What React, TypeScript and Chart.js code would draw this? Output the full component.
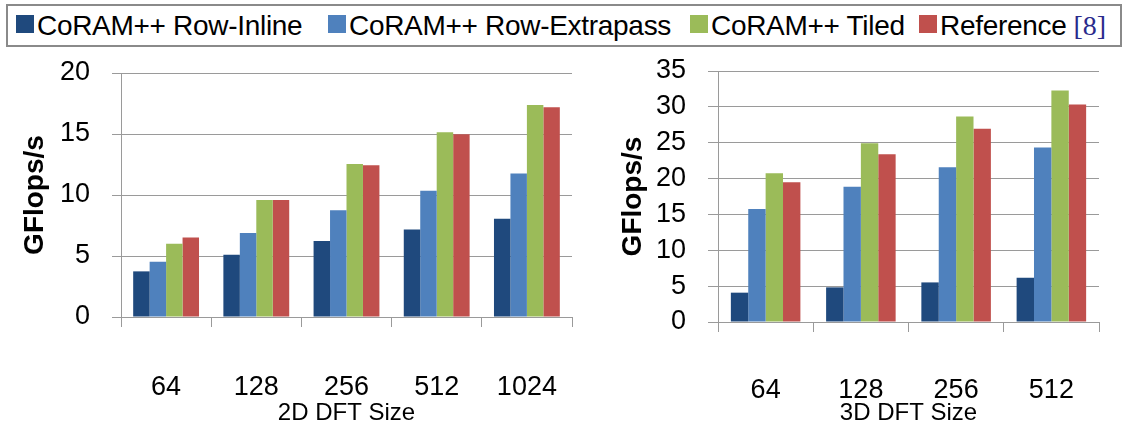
import React, { useEffect, useRef } from "react";
import { Chart, registerables } from "chart.js";

Chart.register(...registerables);

const seriesNames = ["CoRAM++ Row-Inline", "CoRAM++ Row-Extrapass", "CoRAM++ Tiled", "Reference"];
const seriesColors = ["#1F497D", "#4F81BD", "#9BBB59", "#C0504D"];

const sizes2D = ["64", "128", "256", "512", "1024"];
const rowInline2D = [3.74, 5.1, 6.22, 7.18, 8.05];
const rowExtrapass2D = [4.53, 6.88, 8.76, 10.34, 11.76];
const tiled2D = [6.0, 9.6, 12.55, 15.14, 17.38];
const reference2D = [6.52, 9.6, 12.44, 14.98, 17.19];

const sizes3D = ["64", "128", "256", "512"];
const rowInline3D = [4.09, 4.83, 5.52, 6.17];
const rowExtrapass3D = [15.74, 18.85, 21.59, 24.33];
const tiled3D = [20.75, 24.93, 28.64, 32.27];
const reference3D = [19.5, 23.4, 26.93, 30.32];

const yMax2D = 20;
const yMax3D = 35;
const yStep = 5;

const FONT = '"Liberation Sans", Arial, sans-serif';
const GRID = "#9a9a9a";

type PanelProps = {
  labels: string[];
  series: number[][];
  yMax: number;
  xTitle: string;
  padding: { left: number; right: number; top: number; bottom: number };
  yWidth: number;
  xHeight: number;
  xTickPad: number;
  xTitlePad: number;
  yTickLen: number;
  style: React.CSSProperties;
  width: number;
  height: number;
};

function BarPanel(p: PanelProps) {
  const ref = useRef<HTMLCanvasElement | null>(null);
  useEffect(() => {
    if (!ref.current) return;
    const chart = new Chart(ref.current, {
      type: "bar",
      data: {
        labels: p.labels,
        datasets: p.series.map((d, i) => ({
          label: seriesNames[i],
          data: d,
          backgroundColor: seriesColors[i],
          borderWidth: 0,
          categoryPercentage: 0.73,
          barPercentage: 1,
        })),
      },
      options: {
        responsive: false,
        animation: false,
        layout: { padding: p.padding },
        plugins: { legend: { display: false }, tooltip: { enabled: false } },
        scales: {
          x: {
            grid: { offset: true, drawOnChartArea: false, drawTicks: true, tickLength: 10, color: GRID },
            border: { display: true, color: GRID, width: 1 },
            ticks: { color: "#000", font: { family: FONT, size: 27 }, padding: p.xTickPad, maxRotation: 0, autoSkip: false },
            title: {
              display: true,
              text: p.xTitle,
              color: "#000",
              font: { family: FONT, size: 24 },
              padding: { top: 0, bottom: p.xTitlePad },
            },
            afterFit: (s: any) => {
              s.height = p.xHeight;
              s.paddingLeft = 0;
              s.paddingRight = 0;
            },
          },
          y: {
            min: 0,
            max: p.yMax,
            grid: { color: GRID, tickLength: p.yTickLen, drawTicks: true },
            border: { display: true, color: GRID, width: 1 },
            ticks: { stepSize: yStep, color: "#000", font: { family: FONT, size: 27 }, padding: 22, autoSkip: false },
            title: {
              display: true,
              text: "GFlops/s",
              color: "#000",
              font: { family: FONT, size: 28, weight: "bold" },
              padding: { top: 0, bottom: 0 },
            },
            afterFit: (s: any) => {
              s.width = p.yWidth;
              s.paddingTop = 0;
              s.paddingBottom = 0;
            },
          },
        },
      },
    } as any);
    return () => chart.destroy();
  }, []);
  return <canvas ref={ref} width={p.width} height={p.height} style={{ position: "absolute", ...p.style, width: p.width, height: p.height }} />;
}

function Legend() {
  const items = [
    { sq: 16, name: seriesNames[0] },
    { sq: 328, name: seriesNames[1] },
    { sq: 690, name: seriesNames[2] },
    { sq: 919, name: seriesNames[3] },
  ];
  return (
    <div
      style={{
        position: "absolute",
        left: 6,
        top: 4,
        width: 1112,
        height: 39,
        border: "2px solid #8a8a8a",
        boxSizing: "content-box",
      }}
    >
      {items.map((it, i) => (
        <div key={i}>
          <div
            style={{
              position: "absolute",
              left: it.sq - 8,
              top: 9,
              width: 18,
              height: 18,
              background: seriesColors[i],
            }}
          />
          <div
            style={{
              position: "absolute",
              left: it.sq - 8 + 21,
              top: 0,
              height: 39,
              lineHeight: "39px",
              fontFamily: FONT,
              fontSize: 28,
              letterSpacing: "-0.3px",
              color: "#000",
              whiteSpace: "nowrap",
            }}
          >
            {it.name}
            {i === 3 ? (
              <span style={{ fontFamily: '"Liberation Serif", "Times New Roman", serif', color: "#2a2a8c", letterSpacing: 0 }}> [8]</span>
            ) : null}
          </div>
        </div>
      ))}
    </div>
  );
}

export default function App() {
  return (
    <div style={{ position: "absolute", left: 0, top: 0, width: 1128, height: 430, background: "#fff", overflow: "hidden" }}>
      <Legend />
      <BarPanel
        labels={sizes2D}
        series={[rowInline2D, rowExtrapass2D, tiled2D, reference2D]}
        yMax={yMax2D}
        xTitle="2D DFT Size"
        padding={{ left: 18, right: 8, top: 23, bottom: 0 }}
        yWidth={103}
        xHeight={113}
        xTickPad={44}
        xTitlePad={2}
        yTickLen={9}
        width={580}
        height={380}
        style={{ left: 0, top: 50 }}
      />
      <BarPanel
        labels={sizes3D}
        series={[rowInline3D, rowExtrapass3D, tiled3D, reference3D]}
        yMax={yMax3D}
        xTitle="3D DFT Size"
        padding={{ left: 36, right: 29, top: 21, bottom: 0 }}
        yWidth={102}
        xHeight={108}
        xTickPad={42}
        xTitlePad={2}
        yTickLen={10}
        width={548}
        height={380}
        style={{ left: 580, top: 50 }}
      />
    </div>
  );
}
